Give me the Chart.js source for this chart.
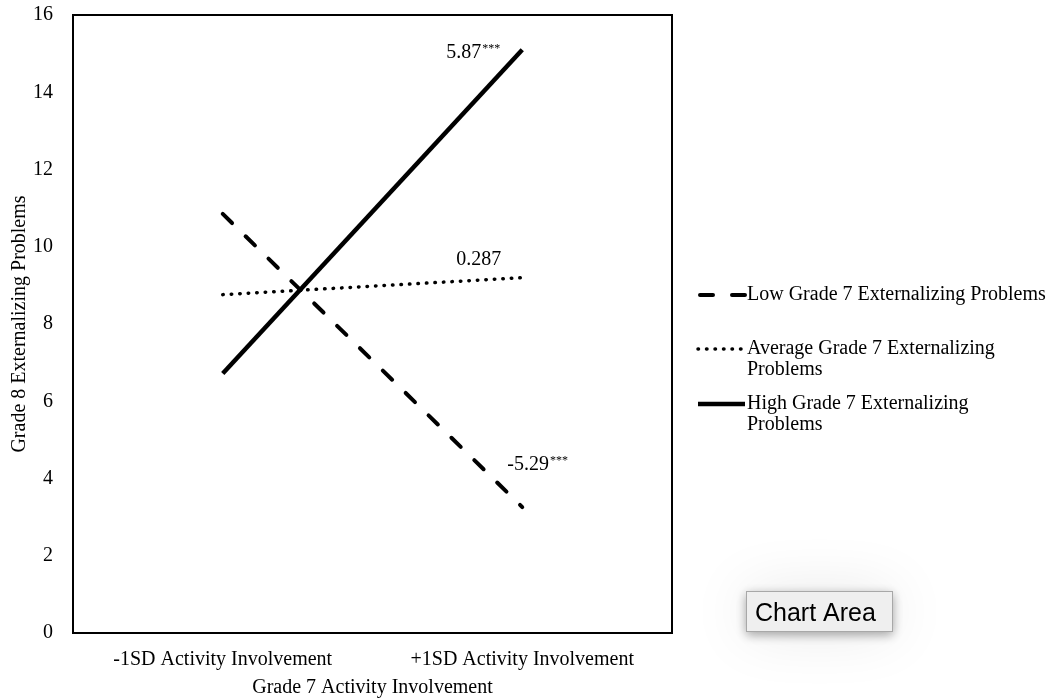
<!DOCTYPE html>
<html>
<head>
<meta charset="utf-8">
<script src="https://cdn.jsdelivr.net/npm/chart.js@4.4.1/dist/chart.umd.min.js"></script>
<style>
  html, body { margin: 0; padding: 0; background: #ffffff; }
  #wrap { width: 1057px; height: 700px; position: relative; }
</style>
</head>
<body>
<div id="wrap"><canvas id="chart"></canvas></div>
<script>
// Simple-slope data: Grade 8 externalizing problems by Grade 7 activity involvement
const categories = ['-1SD Activity Involvement', '+1SD Activity Involvement'];
const lowValues = [10.85, 3.26];
const averageValues = [8.76, 9.2];
const highValues = [6.72, 15.1];
const seriesNames = [
  'Low Grade 7 Externalizing Problems',
  'Average Grade 7 Externalizing Problems',
  'High Grade 7 Externalizing Problems'
];
const legendLines = [
  ['Low Grade 7 Externalizing Problems'],
  ['Average Grade 7 Externalizing', 'Problems'],
  ['High Grade 7 Externalizing', 'Problems']
];
const slopeTexts = ['-5.29', '0.287', '5.87'];
const slopeStars = ['***', '', '***'];
const yTickValues = [0, 2, 4, 6, 8, 10, 12, 14, 16];
const xTitle = 'Grade 7 Activity Involvement';
const yTitle = 'Grade 8 Externalizing Problems';
const hoverBoxText = 'Chart Area';

const SERIF = '"Liberation Serif", "Times New Roman", serif';
const SANS = '"Liberation Sans", Arial, Helvetica, sans-serif';
const FONT_SIZE = 20;

const lineStyles = [
  { dash: [13, 19], width: 4 },
  { dash: [0.5, 8], width: 3.5 },
  { dash: [], width: 4.5 }
];
const seriesValues = [lowValues, averageValues, highValues];

// slope label placement relative to each line's right end (pixels)
const slopeOffsets = [
  { dx: -15, dy: -37 },
  { dx: -66, dy: -13 },
  { dx: -76, dy: 8 }
];

const frameAndNotes = {
  id: 'frameAndNotes',
  afterDatasetsDraw(chart) {
    const { ctx, chartArea: a, scales } = chart;
    ctx.save();
    // plot frame
    ctx.strokeStyle = '#000';
    ctx.lineWidth = 2;
    ctx.strokeRect(a.left, a.top, a.right - a.left, a.bottom - a.top);

    // slope annotations
    ctx.fillStyle = '#000';
    ctx.textBaseline = 'alphabetic';
    ctx.textAlign = 'left';
    seriesValues.forEach((vals, i) => {
      const x = scales.x.getPixelForValue(1) + slopeOffsets[i].dx;
      const y = scales.y.getPixelForValue(vals[1]) + slopeOffsets[i].dy;
      ctx.font = FONT_SIZE + 'px ' + SERIF;
      ctx.fillText(slopeTexts[i], x, y);
      if (slopeStars[i]) {
        const w = ctx.measureText(slopeTexts[i]).width;
        ctx.font = '12px ' + SERIF;
        ctx.fillText(slopeStars[i], x + w + 1, y - 6);
      }
    });
    ctx.restore();
  },
  afterDraw(chart) {
    const { ctx } = chart;
    ctx.save();
    // legend
    const sx0 = 698, sx1 = 745, tx = 747;
    const rows = [295, 349, 404];
    ctx.font = FONT_SIZE + 'px ' + SERIF;
    ctx.fillStyle = '#000';
    ctx.textBaseline = 'middle';
    legendLines.forEach((lines, i) => {
      const st = lineStyles[i];
      ctx.beginPath();
      ctx.strokeStyle = '#000';
      ctx.lineWidth = st.width;
      ctx.lineCap = i === 2 ? 'butt' : 'round';
      ctx.setLineDash(i === 0 ? [13, 19] : st.dash);
      ctx.moveTo(sx0 + (i === 0 ? 2 : 0), rows[i]);
      ctx.lineTo(sx1, rows[i]);
      ctx.stroke();
      ctx.setLineDash([]);
      lines.forEach((t, k) => ctx.fillText(t, tx, rows[i] + k * 21));
    });

    // hover label box
    const bx = 746, by = 591, bw = 147, bh = 41;
    ctx.save();
    ctx.shadowColor = 'rgba(0,0,0,0.10)';
    ctx.shadowBlur = 60;
    ctx.fillStyle = '#f4f4f4';
    ctx.fillRect(bx, by, bw, bh);
    ctx.restore();
    ctx.save();
    ctx.shadowColor = 'rgba(0,0,0,0.35)';
    ctx.shadowBlur = 10;
    ctx.shadowOffsetY = 3;
    ctx.fillStyle = '#efefef';
    ctx.fillRect(bx, by, bw, bh);
    ctx.restore();
    ctx.strokeStyle = '#a8a8a8';
    ctx.lineWidth = 1;
    ctx.strokeRect(bx + 0.5, by + 0.5, bw - 1, bh - 1);
    ctx.font = '25px ' + SANS;
    ctx.fillStyle = '#000';
    ctx.textAlign = 'left';
    ctx.textBaseline = 'alphabetic';
    ctx.fillText(hoverBoxText, bx + 9, by + 30);
    ctx.restore();
  }
};

new Chart(document.getElementById('chart'), {
  type: 'line',
  data: {
    labels: categories,
    datasets: seriesNames.map((name, i) => ({
      label: name,
      data: seriesValues[i],
      borderColor: '#000',
      backgroundColor: '#000',
      borderWidth: lineStyles[i].width,
      borderDash: lineStyles[i].dash,
      borderCapStyle: i === 2 ? 'butt' : 'round',
      pointRadius: 0,
      tension: 0,
      fill: false
    }))
  },
  options: {
    responsive: true,
    maintainAspectRatio: false,
    animation: false,
    events: [],
    layout: { padding: { left: 0, top: 15, right: 385, bottom: 0 } },
    plugins: { legend: { display: false }, tooltip: { enabled: false } },
    scales: {
      x: {
        offset: true,
        grid: { display: false, drawTicks: false },
        border: { display: false },
        ticks: { color: '#000', font: { family: SERIF, size: FONT_SIZE }, padding: 15, maxRotation: 0 },
        title: { display: true, text: xTitle, color: '#000', font: { family: SERIF, size: FONT_SIZE }, padding: { top: 0, bottom: 0 } },
        afterFit(scale) { scale.height = 67; scale.paddingLeft = 0; scale.paddingRight = 0; }
      },
      y: {
        min: 0,
        max: 16,
        afterBuildTicks(scale) { scale.ticks = yTickValues.map(v => ({ value: v })); },
        grid: { display: false, drawTicks: false },
        border: { display: false },
        ticks: { color: '#000', font: { family: SERIF, size: FONT_SIZE }, padding: 20 },
        title: { display: true, text: yTitle, color: '#000', font: { family: SERIF, size: FONT_SIZE }, padding: { top: 8, bottom: 0 } },
        afterFit(scale) { scale.width = 73; scale.paddingTop = 0; scale.paddingBottom = 0; }
      }
    }
  },
  plugins: [frameAndNotes]
});
</script>
</body>
</html>
